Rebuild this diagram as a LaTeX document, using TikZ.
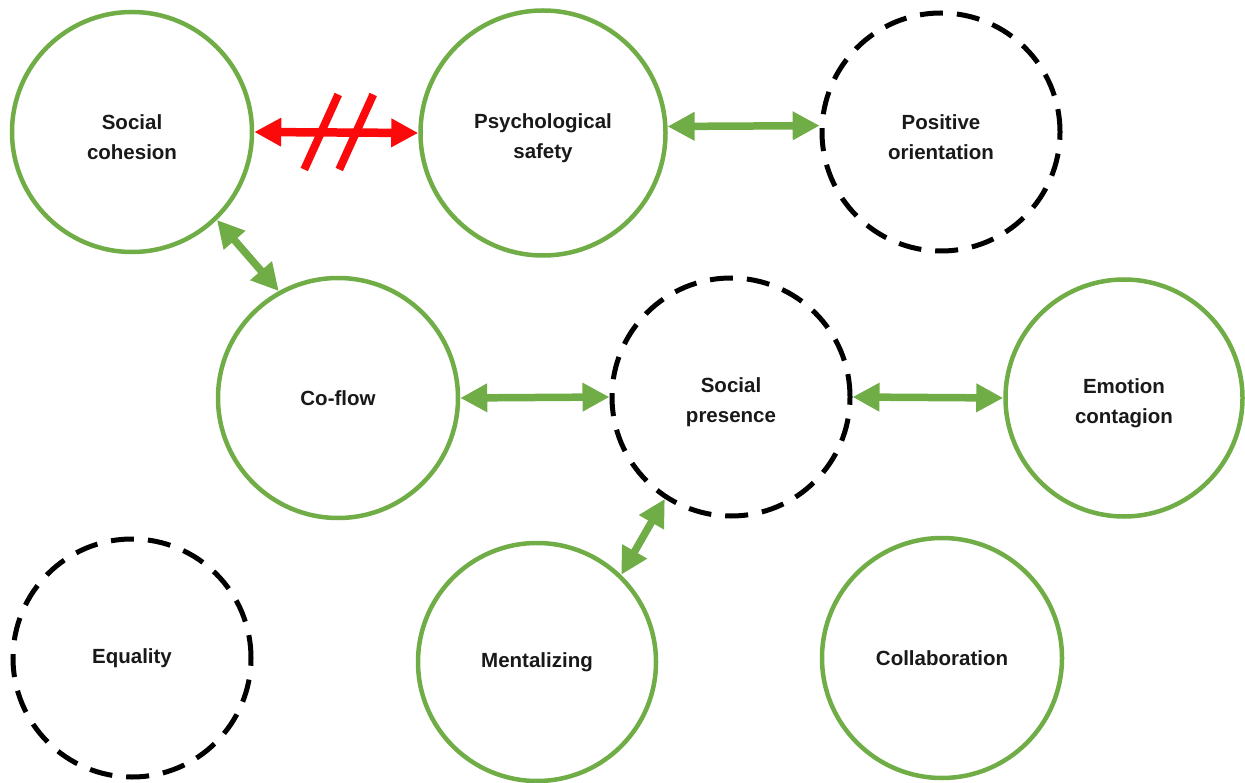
\documentclass[tikz,border=0pt]{standalone}
\usepackage{fontspec}
\setmainfont{Liberation Sans}
\usetikzlibrary{arrows.meta, positioning}
\definecolor{leafgreen}{RGB}{112,173,71}
\definecolor{cutred}{RGB}{250,10,10}

\begin{document}
\begin{tikzpicture}[x=1pt, y=-1pt,
  every node/.style={font=\fontsize{20.5}{30}\selectfont\bfseries, align=center, text=black!90},
  solidc/.style={circle, draw=leafgreen, line width=4.5pt, minimum size=240pt, inner sep=0pt},
  dashc/.style={circle, draw=black, line width=5pt, dash pattern=on 23pt off 14pt, minimum size=238pt, inner sep=0pt},
  twoline/.style={text height=55pt},
  link/.style={draw=leafgreen, line width=7.5pt, {Triangle[length=27pt, width=27pt]}-{Triangle[length=27pt, width=27pt]}},
  blocked/.style={draw=cutred, line width=8.5pt, {Triangle[length=27pt, width=27pt]}-{Triangle[length=27pt, width=27pt]}},
  slash/.style={draw=cutred, line width=8pt}]
  \useasboundingbox (0,0) rectangle (1245,783);
  % Nodes
  \node[solidc, twoline] (cohesion) at (132,132) {Social\\cohesion};
  \node[solidc, twoline, minimum size=245pt] (safety) at (543,133) {Psychological\\safety};
  \node[dashc, twoline] (positive) at (941,132) {Positive\\orientation};
  \node[solidc] (coflow) at (338,398) {Co-flow};
  \node[dashc, twoline] (presence) at (731,397) {Social\\presence};
  \node[solidc, twoline, minimum size=237pt] (contagion) at (1124,398) {Emotion\\contagion};
  \node[dashc] (equality) at (132,658) {Equality};
  \node[solidc, minimum size=238pt] (mental) at (537,662) {Mentalizing};
  \node[solidc] (collab) at (942,658) {Collaboration};
  % Edges
  \draw[blocked] (cohesion.east) -- coordinate (cut) (safety.west);
  \draw[slash] ([shift={(2,-38)}]cut) -- ([shift={(-32,37)}]cut);
  \draw[slash] ([shift={(37,-38)}]cut) -- ([shift={(3,37)}]cut);
  \draw[link] (safety.3) -- (positive.177);
  \draw[link] (cohesion.-46) -- (coflow.119);
  \draw[link] (coflow.east) -- (presence.west);
  \draw[link] (presence.east) -- (contagion.west);
  \draw[link] (presence.-123) -- (mental.46);
\end{tikzpicture}
\end{document}
